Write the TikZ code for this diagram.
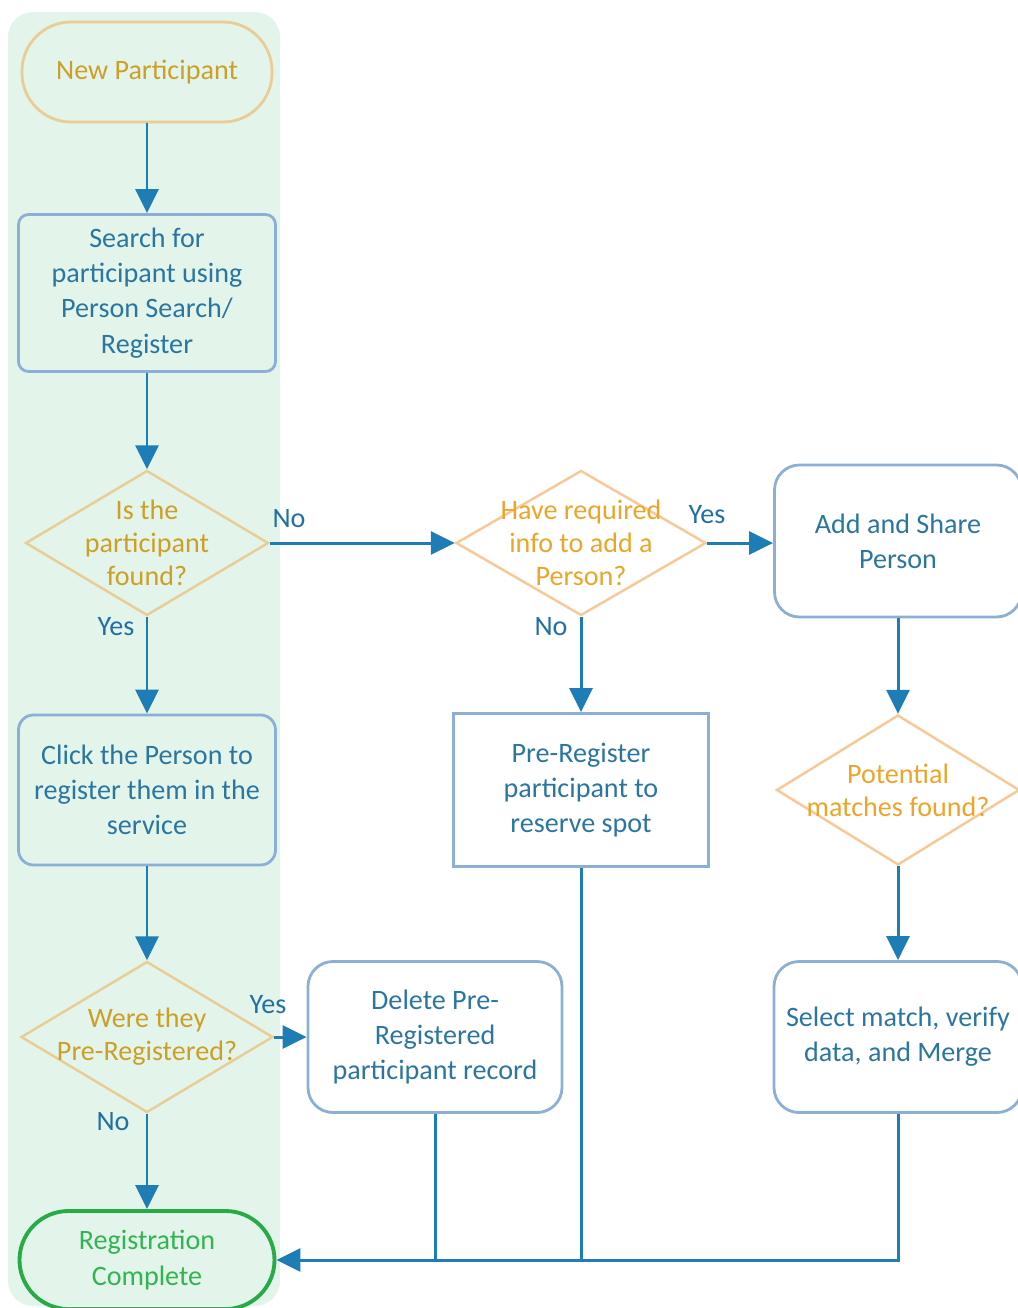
\documentclass[tikz,border=0pt]{standalone}
\usepackage{fontspec}
\setmainfont{Carlito}
\usetikzlibrary{shapes.geometric,arrows.meta}

\definecolor{panelgreen}{RGB}{227,244,234}
\definecolor{flowblue}{RGB}{30,125,180}
\definecolor{boxline}{RGB}{140,175,215}
\definecolor{boxtext}{RGB}{42,118,160}
\definecolor{tanline}{RGB}{232,205,150}
\definecolor{tantext}{RGB}{204,160,40}
\definecolor{orangeline}{RGB}{248,200,150}
\definecolor{orangetext}{RGB}{236,165,40}
\definecolor{endline}{RGB}{40,170,70}
\definecolor{endtext}{RGB}{50,180,80}
\definecolor{labelblue}{RGB}{32,112,162}

\begin{document}
\begin{tikzpicture}[x=0.2mm, y=-0.2mm,
    font=\fontsize{16}{20}\selectfont,
    box/.style={draw=boxline, line width=1.6pt, text=boxtext, align=center, inner sep=0pt},
    term/.style={box, rounded corners=9.8mm},
    dia/.style={diamond, draw, line width=1.4pt, inner sep=0pt},
    dtext/.style={align=center, inner sep=0pt, font=\fontsize{16}{18.8}\selectfont},
    lbl/.style={text=labelblue, inner sep=0pt},
    line/.style={draw=flowblue, line width=1.7pt},
    arr/.style={line, -{Triangle[length=4.8mm, width=4.6mm]}}
]

    % page and panel
    \useasboundingbox (0,0) rectangle (1018,1308);
    \fill[panelgreen, rounded corners=5mm] (8,12) rectangle (280,1306);

    % left column
    \node[term, draw=tanline, text=tantext, minimum width=50mm, minimum height=20mm] (start) at (147,72) {New Participant};
    \node[box, rounded corners=2mm, minimum width=51.4mm, minimum height=31.4mm] (search) at (147,293) {Search for\\participant using\\Person Search/\\Register};
    \node[dia, draw=tanline, minimum width=48.6mm, minimum height=29mm] (found) at (147,543) {};
    \node[dtext, text=tantext] (foundt) at (found) {Is the\\participant\\found?};
    \node[box, rounded corners=3mm, minimum width=51.4mm, minimum height=30mm] (click) at (147,790) {Click the Person to\\register them in the\\service};
    \node[dia, draw=tanline, minimum width=50.4mm, minimum height=30.2mm] (wasreg) at (147,1037) {};
    \node[dtext, text=tantext] (wasregt) at (wasreg) {Were they\\Pre-Registered?};
    \node[term, draw=endline, line width=2.2pt, text=endtext, minimum width=51mm, minimum height=19.6mm] (done) at (147,1260) {Registration\\Complete};

    % middle column
    \node[dia, draw=orangeline, minimum width=50mm, minimum height=29mm] (info) at (581,543) {};
    \node[dtext, text=orangetext] (infot) at (info) {Have required\\info to add a\\Person?};
    \node[box, minimum width=51mm, minimum height=30.6mm] (prereg) at (581,790) {Pre-Register\\participant to\\reserve spot};
    \node[box, rounded corners=5mm, minimum width=50.8mm, minimum height=30.2mm] (delete) at (435,1037) {Delete Pre-\\Registered\\participant record};

    % right column
    \node[box, rounded corners=5mm, minimum width=49.4mm, minimum height=30.4mm] (add) at (898,541) {Add and Share\\Person};
    \node[dia, draw=orangeline, minimum width=48.6mm, minimum height=30mm] (matches) at (898,790) {};
    \node[dtext, text=orangetext] (matchest) at (matches) {Potential\\matches found?};
    \node[box, rounded corners=5mm, minimum width=49.6mm, minimum height=30.2mm] (select) at (898,1037) {Select match, verify\\data, and Merge};

    % arrows
    \draw[arr] (start) -- (search);
    \draw[arr] (search) -- (found);
    \draw[arr] (found) -- (info);
    \draw[arr] (found) -- (click);
    \draw[arr] (click) -- (wasreg);
    \draw[arr] (wasreg) -- (delete);
    \draw[arr] (wasreg) -- (done);
    \draw[arr] (info) -- (info -| add.west);
    \draw[arr] (info) -- (prereg);
    \draw[arr] (add) -- (matches);
    \draw[arr] (matches) -- (select);

    % merge into end
    \draw[arr] (select.south) |- (done.east);
    \draw[line] (prereg.south) -- (prereg.south |- done.east);
    \draw[line] (delete.south) -- (delete.south |- done.east);

    % branch labels
    \node[lbl] (no1) at (289,519) {No};
    \node[lbl] (yes1) at (116,627) {Yes};
    \node[lbl] (yes2) at (707,515) {Yes};
    \node[lbl] (no2) at (551,627) {No};
    \node[lbl] (yes3) at (268,1005) {Yes};
    \node[lbl] (no3) at (113,1122) {No};

\end{tikzpicture}
\end{document}
